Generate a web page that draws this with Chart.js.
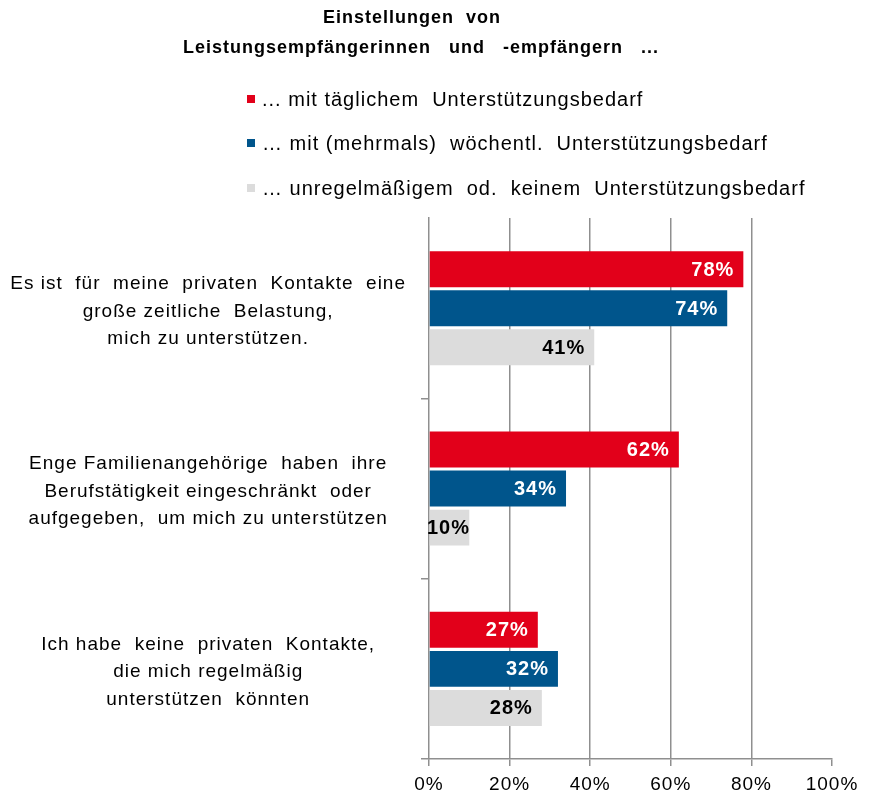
<!DOCTYPE html>
<html>
<head>
<meta charset="utf-8">
<script src="https://cdn.jsdelivr.net/npm/chart.js@4.4.1/dist/chart.umd.min.js"></script>
<style>
html,body{margin:0;padding:0;background:#fff;}
</style>
</head>
<body>
<canvas id="chart" width="869" height="798"></canvas>
<script>
var titleLines = ['Einstellungen  von   ', 'Leistungsempfängerinnen   und   -empfängern   ...'];
var categories = [
    ['Es ist  für  meine  privaten  Kontakte  eine', 'große zeitliche  Belastung,', 'mich zu unterstützen.'],
    ['Enge Familienangehörige  haben  ihre', 'Berufstätigkeit eingeschränkt  oder', 'aufgegeben,  um mich zu unterstützen'],
    ['Ich habe  keine  privaten  Kontakte,', 'die mich regelmäßig', 'unterstützen  könnten']
];
var seriesNames = [
    '... mit täglichem  Unterstützungsbedarf',
    '… mit (mehrmals)  wöchentl.  Unterstützungsbedarf',
    '… unregelmäßigem  od.  keinem  Unterstützungsbedarf'
];
var dailyValues = [78, 62, 27];
var weeklyValues = [74, 34, 32];
var rareValues = [41, 10, 28];
var seriesColors = ['#E2001A', '#00558C', '#DCDCDC'];
var labelColors = ['#ffffff', '#ffffff', '#000000'];
var xMin = 0, xMax = 100, xStep = 20;

var FONT = '"Liberation Sans", Arial, sans-serif';
var GRID = '#8f8f8f';
Chart.defaults.font.family = FONT;
Chart.defaults.color = '#000';

// the original text is set a little looser than plain Arial
var looseText = {
    id: 'looseText',
    beforeDraw: function(chart){ chart.ctx.letterSpacing = '1px'; },
    afterDraw: function(chart){ chart.ctx.letterSpacing = '0px'; }
};

// legend drawn as a left-aligned stack under the title
var stackLegend = {
    id: 'stackLegend',
    afterDraw: function(chart){
        var ctx = chart.ctx;
        var rows = [99, 143, 188];
        ctx.save();
        ctx.letterSpacing = '1px';
        ctx.font = '20px ' + FONT;
        ctx.textBaseline = 'middle';
        ctx.textAlign = 'left';
        chart.data.datasets.forEach(function(ds, i){
            ctx.fillStyle = ds.backgroundColor;
            ctx.fillRect(247, rows[i] - 4, 8, 8);
            ctx.fillStyle = '#000';
            ctx.fillText(ds.label, 262, rows[i] + 1);
        });
        ctx.restore();
    }
};

// value labels at the inner end of every bar
var valueLabels = {
    id: 'valueLabels',
    afterDatasetsDraw: function(chart){
        var ctx = chart.ctx;
        ctx.save();
        ctx.font = 'bold 20px ' + FONT;
        ctx.textBaseline = 'middle';
        ctx.textAlign = 'right';
        chart.data.datasets.forEach(function(ds, i){
            var meta = chart.getDatasetMeta(i);
            meta.data.forEach(function(bar, j){
                var text = ds.data[j] + '%';
                var w = ctx.measureText(text).width;
                var x = Math.max(bar.x - 9, chart.chartArea.left - 2 + w);
                ctx.fillStyle = labelColors[i];
                ctx.fillText(text, x, bar.y + 1);
            });
        });
        ctx.restore();
    }
};

var valueSets = [dailyValues, weeklyValues, rareValues];
var datasets = valueSets.map(function(vals, i){
    return {
        label: seriesNames[i],
        data: vals,
        backgroundColor: seriesColors[i],
        borderWidth: 0,
        categoryPercentage: 0.65,
        barPercentage: 0.92
    };
});

new Chart(document.getElementById('chart'), {
    type: 'bar',
    data: { labels: categories, datasets: datasets },
    plugins: [looseText, stackLegend, valueLabels],
    options: {
        indexAxis: 'y',
        responsive: false,
        animation: false,
        layout: { padding: { left: 10, right: 37, top: 0, bottom: 4 } },
        plugins: {
            legend: { display: false },
            tooltip: { enabled: false },
            title: {
                display: true,
                text: titleLines,
                color: '#000',
                font: { size: 18, weight: 'bold', lineHeight: 1.67 },
                padding: { top: 3, bottom: 155 }
            }
        },
        scales: {
            x: {
                min: xMin, max: xMax,
                ticks: {
                    stepSize: xStep,
                    color: '#000',
                    font: { size: 19 },
                    padding: 7,
                    callback: function(v){ return v + '%'; }
                },
                grid: {
                    color: function(c){
                        if (c.tick && (c.tick.value === xMin || c.tick.value === xMax)) return 'rgba(0,0,0,0)';
                        return GRID;
                    },
                    tickColor: GRID,
                    lineWidth: 1.5,
                    tickLength: 7
                },
                border: { color: GRID, width: 1.5 },
                afterFit: function(scale){ scale.height = 35; }
            },
            y: {
                ticks: {
                    crossAlign: 'center',
                    color: '#000',
                    font: { size: 19, lineHeight: 1.45 },
                    padding: 37,
                    labelOffset: 3
                },
                grid: {
                    drawOnChartArea: false,
                    offset: true,
                    tickLength: 8,
                    lineWidth: 1.5,
                    color: function(c){ return c.index === 0 ? 'rgba(0,0,0,0)' : GRID; }
                },
                border: { color: GRID, width: 1.5 },
                afterFit: function(scale){
                    scale.width = 419;
                    scale.paddingTop = 0;
                    scale.paddingBottom = 0;
                }
            }
        }
    }
});
</script>
</body>
</html>
